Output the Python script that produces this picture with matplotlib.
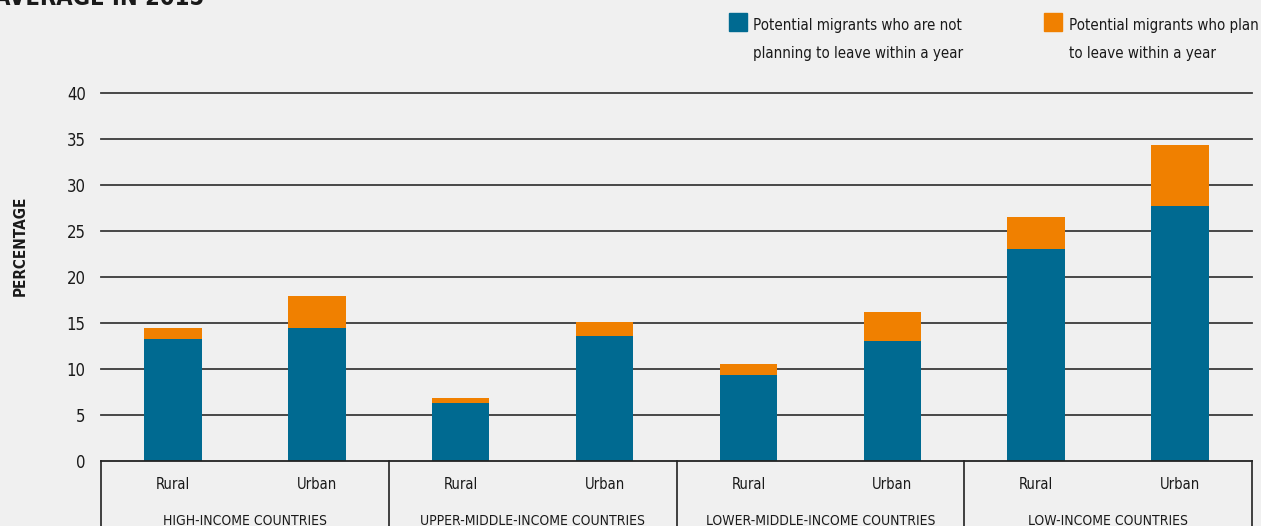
import matplotlib
matplotlib.use("Agg")
import matplotlib.pyplot as plt
import matplotlib.transforms as mtransforms
from matplotlib.patches import Rectangle

plt.rcParams['font.family'] = ['DejaVu Sans']
plt.rcParams['font.stretch'] = 'condensed'

# Data
groups = ["HIGH-INCOME COUNTRIES", "UPPER-MIDDLE-INCOME COUNTRIES",
          "LOWER-MIDDLE-INCOME COUNTRIES", "LOW-INCOME COUNTRIES"]
areas = ["Rural", "Urban"]
not_planning = [13.3, 14.5, 6.3, 13.6, 9.3, 13.0, 23.0, 27.7]
planning = [1.2, 3.4, 0.6, 1.5, 1.2, 3.2, 3.5, 6.6]
yticks = [0, 5, 10, 15, 20, 25, 30, 35, 40]
legend_lines = [["Potential migrants who are not", "planning to leave within a year"],
                ["Potential migrants who plan", "to leave within a year"]]

BLUE = "#006a91"
ORANGE = "#f08000"
BG = "#f0f0f0"
TXT = "#1a1a1a"

W, H = 1261, 526
fig = plt.figure(figsize=(W / 100, H / 100), dpi=100, facecolor=BG)
ax = fig.add_axes([101 / W, 65 / H, (1252 - 101) / W, (461 - 93) / H], facecolor=BG)

# bar positions: two per group
xs = []
for g in range(len(groups)):
    xs += [g + 0.25, g + 0.75]
width = 0.2

ax.bar(xs, not_planning, width=width, color=BLUE, zorder=3)
ax.bar(xs, planning, width=width, bottom=not_planning, color=ORANGE, zorder=3)

ax.set_xlim(0, len(groups))
ax.set_ylim(0, 40)

for s in ax.spines.values():
    s.set_visible(False)

# horizontal gridlines
for v in yticks[1:]:
    ax.axhline(v, color="#3a3a3a", lw=1.3, zorder=1, clip_on=False)
ax.axhline(0, color="#222222", lw=1.3, zorder=4, clip_on=False)

ax.set_yticks(yticks)
ax.set_yticklabels([str(v) for v in yticks], fontsize=12, color=TXT)
ax.tick_params(axis="y", length=0, pad=11)
ax.set_xticks([])

fig.text(20 / W, 1 - 246 / H, "PERCENTAGE", rotation=90, ha="center", va="center",
         fontsize=11, fontweight="bold", color=TXT)

# category box below the axis
trans = mtransforms.blended_transform_factory(ax.transData, ax.transAxes)
for b in range(len(groups) + 1):
    ax.plot([b, b], [0, -0.2], color="#222222", lw=1.2, transform=trans, clip_on=False)

for x, lbl in zip(xs, areas * len(groups)):
    ax.text(x, -0.077, lbl, transform=trans, ha="center", va="baseline",
            fontsize=10.5, color=TXT)
for g, name in enumerate(groups):
    ax.text(g + 0.5, -0.174, name, transform=trans, ha="center", va="baseline",
            fontsize=10, color=TXT)

# title (partly above the figure edge)
fig.text(-6 / W, 1 - 5 / H, "AVERAGE IN 2015", ha="left", va="baseline",
         fontsize=17, fontweight="bold", color=TXT)

# legend
for (sx, tx, color, lines) in [(729, 753, BLUE, legend_lines[0]),
                               (1044, 1069, ORANGE, legend_lines[1])]:
    fig.patches.append(Rectangle((sx / W, 1 - 31 / H), 18 / W, 18 / H,
                                 transform=fig.transFigure, color=color))
    for i, line in enumerate(lines):
        fig.text(tx / W, 1 - (30 + 28 * i) / H, line, ha="left", va="baseline",
                 fontsize=10.8, color=TXT)

fig.savefig("out.png", dpi=100, facecolor=BG)
